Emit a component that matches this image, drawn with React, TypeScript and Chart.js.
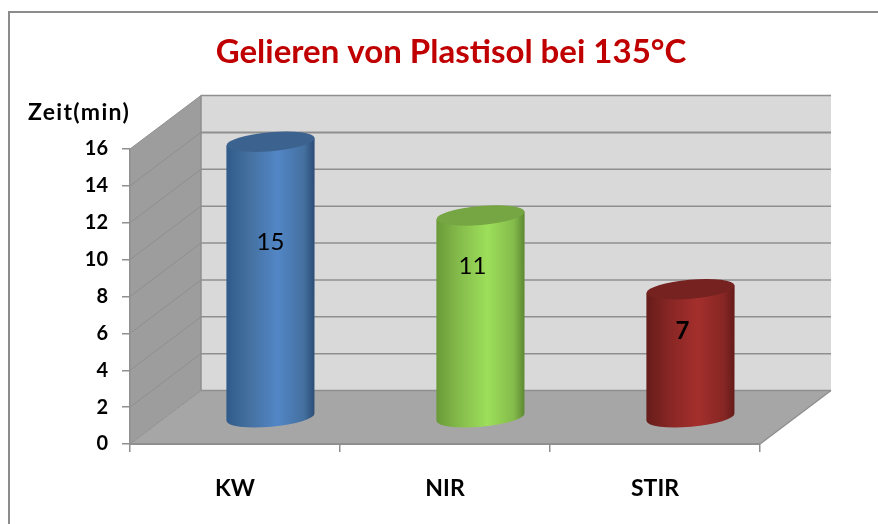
import React, { useEffect, useRef } from "react";
import { Chart, registerables } from "chart.js";

Chart.register(...registerables);

const categories = ["KW", "NIR", "STIR"];
const values = [15, 11, 7];
const bodyStops = [
  ["#2f5a8a", "#44709f", "#5286c6", "#44709f", "#2c4c76"],
  ["#6a9a38", "#84bb4b", "#9ddf5a", "#84bb4b", "#5c8832"],
  ["#661c1a", "#862624", "#a42f2c", "#862624", "#641b19"],
];
const capColors = ["#3c638f", "#76a544", "#752220"];
const labelDx = [0, -8, -8];
const labelDy = [101, 51, 42];

const FONT = "Lato, sans-serif";
const GRID = "#8f8f8f";
const DEPTH_X = 71;
const DEPTH_Y = 53.5;

const scene = {
  id: "scene",
  beforeDraw(chart: any) {
    const { ctx, scales } = chart;
    const x0 = scales.x.left;
    const x1 = scales.x.right;
    const yTop = scales.y.getPixelForValue(16);
    const yBot = scales.y.getPixelForValue(0);
    ctx.save();
    // frame
    ctx.fillStyle = "#8c8c8c";
    ctx.fillRect(8, 11, 870, 2);
    ctx.fillRect(8, 11, 2, 513);
    // back wall
    ctx.fillStyle = "#d9d9d9";
    ctx.fillRect(x0 + DEPTH_X, yTop - DEPTH_Y, x1 - x0, yBot - yTop);
    // side wall
    ctx.fillStyle = "#9d9d9d";
    ctx.beginPath();
    ctx.moveTo(x0, yTop);
    ctx.lineTo(x0 + DEPTH_X, yTop - DEPTH_Y);
    ctx.lineTo(x0 + DEPTH_X, yBot - DEPTH_Y);
    ctx.lineTo(x0, yBot);
    ctx.closePath();
    ctx.fill();
    // floor
    ctx.fillStyle = "#a6a6a6";
    ctx.beginPath();
    ctx.moveTo(x0, yBot);
    ctx.lineTo(x0 + DEPTH_X, yBot - DEPTH_Y);
    ctx.lineTo(x1 + DEPTH_X, yBot - DEPTH_Y);
    ctx.lineTo(x1, yBot);
    ctx.closePath();
    ctx.fill();
    // grid lines along the walls
    ctx.strokeStyle = GRID;
    for (const t of scales.y.ticks) {
      const y = scales.y.getPixelForValue(t.value);
      ctx.lineWidth = t.value === 14 ? 2 : 1.5;
      ctx.beginPath();
      ctx.moveTo(x0 + DEPTH_X, y - DEPTH_Y);
      ctx.lineTo(x1 + DEPTH_X, y - DEPTH_Y);
      ctx.stroke();
      ctx.lineWidth = 1;
      ctx.beginPath();
      ctx.moveTo(x0, y);
      ctx.lineTo(x0 + DEPTH_X, y - DEPTH_Y);
      ctx.stroke();
    }
    // floor right edge
    ctx.lineWidth = 1.5;
    ctx.beginPath();
    ctx.moveTo(x1, yBot);
    ctx.lineTo(x1 + DEPTH_X, yBot - DEPTH_Y);
    ctx.stroke();
    ctx.beginPath();
    ctx.moveTo(x0 + DEPTH_X, yTop - DEPTH_Y);
    ctx.lineTo(x0 + DEPTH_X, yBot - DEPTH_Y);
    ctx.stroke();
    // y-axis caption
    ctx.fillStyle = "#000000";
    ctx.font = `bold 23px ${FONT}`;
    ctx.letterSpacing = "1.3px";
    ctx.textAlign = "left";
    ctx.textBaseline = "middle";
    ctx.fillText("Zeit(min)", 28, 113);
    ctx.restore();
  },
  afterDatasetsDraw(chart: any) {
    const { ctx, scales } = chart;
    const meta = chart.getDatasetMeta(0);
    const rot = (-5 * Math.PI) / 180;
    const baseY = scales.y.getPixelForValue(0) - DEPTH_Y / 2;
    meta.data.forEach((bar: any, i: number) => {
      const cx = bar.x + DEPTH_X / 2;
      const a = bar.width / 2;
      const b = 9.5;
      const topY = bar.y - DEPTH_Y / 2 + 1;
      const tilt = a * Math.sin(-rot);
      ctx.save();
      const g = ctx.createLinearGradient(cx - a, 0, cx + a, 0);
      g.addColorStop(0, bodyStops[i][0]);
      g.addColorStop(0.25, bodyStops[i][1]);
      g.addColorStop(0.58, bodyStops[i][2]);
      g.addColorStop(0.88, bodyStops[i][3]);
      g.addColorStop(1, bodyStops[i][4]);
      ctx.fillStyle = g;
      ctx.beginPath();
      ctx.moveTo(cx - a, topY + tilt);
      ctx.lineTo(cx - a, baseY + tilt);
      ctx.ellipse(cx, baseY, a, b, rot, Math.PI, 0, true);
      ctx.lineTo(cx + a, topY - tilt);
      ctx.closePath();
      ctx.fill();
      ctx.fillStyle = capColors[i];
      ctx.beginPath();
      ctx.ellipse(cx, topY, a, b, rot, 0, Math.PI * 2);
      ctx.fill();
      ctx.fillStyle = "#000000";
      ctx.font = `${i === 2 ? "bold " : ""}24px ${FONT}`;
      ctx.textAlign = "center";
      ctx.textBaseline = "middle";
      ctx.fillText(String(values[i]), cx + labelDx[i], topY + labelDy[i]);
      ctx.restore();
    });
  },
};

export default function App() {
  const ref = useRef<HTMLCanvasElement>(null);
  useEffect(() => {
    const chart = new Chart(ref.current!, {
      type: "bar",
      data: {
        labels: categories,
        datasets: [
          {
            label: "Zeit(min)",
            data: values,
            backgroundColor: "rgba(0,0,0,0)",
            borderWidth: 0,
            barPercentage: 0.42,
            categoryPercentage: 1,
          },
        ],
      },
      options: {
        responsive: false,
        animation: false,
        layout: { padding: { left: 24, right: 0, top: 0, bottom: 0 } },
        plugins: {
          legend: { display: false },
          tooltip: { enabled: false },
          title: {
            display: true,
            text: "Gelieren von Plastisol bei 135°C",
            color: "#c00000",
            font: { family: FONT, size: 33, weight: "bold", lineHeight: 1.2 },
            padding: { top: 33, bottom: 76.4 },
          },
        },
        scales: {
          x: {
            offset: true,
            grid: { offset: true, drawOnChartArea: false, color: GRID, tickLength: 8, lineWidth: 1.5 },
            border: { color: GRID, width: 2 },
            ticks: { color: "#000000", padding: 23, font: { family: FONT, size: 23, weight: "bold" } },
            afterFit(s: any) {
              s.height = 80;
            },
          },
          y: {
            min: 0,
            max: 16,
            grid: { drawOnChartArea: false, color: GRID, tickLength: 8, lineWidth: 1.5 },
            border: { color: GRID, width: 1.5 },
            ticks: { stepSize: 2, color: "#000000", padding: 14, font: { family: FONT, size: 20, weight: "bold" } },
            afterFit(s: any) {
              s.width = 106;
            },
          },
          y2: {
            position: "right",
            display: true,
            min: 0,
            max: 16,
            grid: { display: false },
            border: { display: false },
            ticks: { display: false },
            afterFit(s: any) {
              s.width = 118;
            },
          },
        },
      },
      plugins: [scene],
    } as any);
    return () => chart.destroy();
  }, []);
  return (
    <div style={{ position: "absolute", left: 0, top: 0, width: 878, height: 524, background: "#ffffff" }}>
      <canvas ref={ref} width={878} height={524} style={{ display: "block" }} />
    </div>
  );
}
